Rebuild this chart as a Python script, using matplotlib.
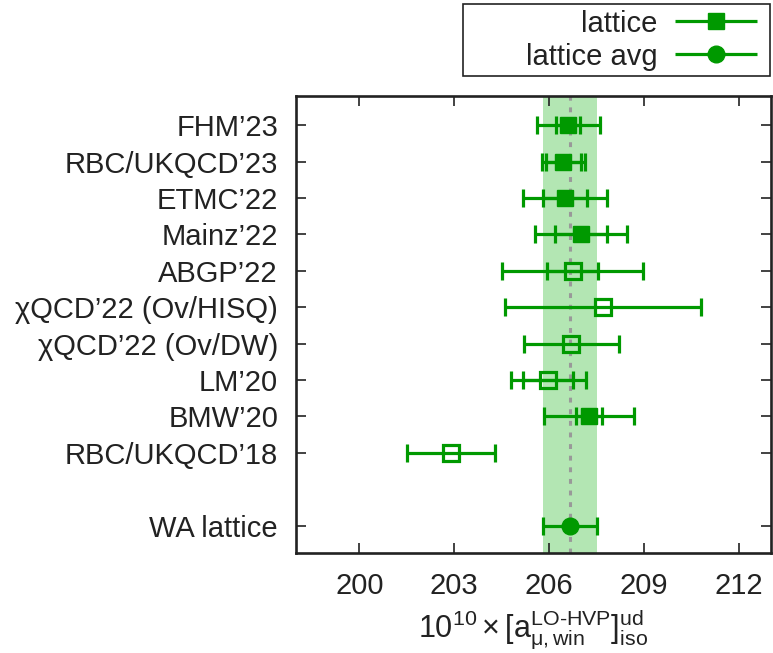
import matplotlib
matplotlib.use("Agg")
import matplotlib.pyplot as plt
from matplotlib.patches import Rectangle
from matplotlib.legend_handler import HandlerErrorbar

plt.rcParams['font.family'] = ['Liberation Sans', 'DejaVu Sans']
plt.rcParams['mathtext.fontset'] = 'custom'
plt.rcParams['mathtext.rm'] = 'Liberation Sans'
plt.rcParams['mathtext.it'] = 'Liberation Sans:italic'

# data
labels = ["FHM\u201923", "RBC/UKQCD\u201923", "ETMC\u201922", "Mainz\u201922", "ABGP\u201922",
          "χQCD\u201922 (Ov/HISQ)", "χQCD\u201922 (Ov/DW)", "LM\u201920", "BMW\u201920",
          "RBC/UKQCD\u201918"]
values = [206.6, 206.45, 206.5, 207.0, 206.74, 207.7, 206.7, 205.97, 207.26, 202.9]
err_tot = [1.0, 0.67, 1.32, 1.46, 2.23, 3.1, 1.5, 1.19, 1.41, 1.40]
err_stat = [0.38, 0.54, 0.7, 0.82, 0.8, None, None, 0.79, 0.4, None]
filled = [True, True, True, True, False, False, False, False, True, False]

wa_label = "WA lattice"
wa_value = 206.65
wa_err = 0.85

green = '#009900'
band = '#b3e6b3'
ink = '#222222'
fs = 21

fig = plt.figure(figsize=(7.73, 6.53), dpi=100)
ax = fig.add_axes([0.383, 0.1531, 0.614, 0.7003])

ax.axvspan(wa_value - wa_err, wa_value + wa_err, color=band, lw=0, zorder=0)
ax.axvline(wa_value, color='#999999', ls=(0, (1.6, 2.2)), lw=2.2, zorder=1)

for i, (v, et, es, f) in enumerate(zip(values, err_tot, err_stat, filled)):
    ax.errorbar(v, i, xerr=et, fmt='none', ecolor=green, elinewidth=2.3,
                capsize=6.5, capthick=2.3, zorder=2)
    if es is not None:
        ax.errorbar(v, i, xerr=es, fmt='none', ecolor=green, elinewidth=2.3,
                    capsize=6.5, capthick=2.3, zorder=2)
    if f:
        ax.plot(v, i, 's', color=green, ms=11.5, mew=1, zorder=3)
    else:
        ax.plot(v, i, 's', mfc='none', mec=green, ms=12, mew=2.3, zorder=3)

wa_pos = len(labels) + 1
ax.errorbar(wa_value, wa_pos, xerr=wa_err, fmt='o', color=green, ms=12,
            elinewidth=2.3, capsize=6.5, capthick=2.3, zorder=3)

ax.set_xlim(198, 213)
ax.set_ylim(11.75, -0.81)
ax.set_xticks([200, 203, 206, 209, 212])
ax.set_yticks(list(range(len(labels))) + [wa_pos])
ax.set_yticklabels(labels + [wa_label])
ax.tick_params(direction='in', top=True, right=True, length=7, width=1.2,
               labelsize=fs, colors=ink)
ax.tick_params(axis='x', pad=14)
ax.tick_params(axis='y', pad=13)
for s in ax.spines.values():
    s.set_linewidth(1.9)
    s.set_color(ink)

ax.set_xlabel(r'$10^{10}\times[\mathrm{a}^{\mathrm{LO\text{-}HVP}}_{\mathrm{μ,win}}]^{\mathrm{ud}}_{\mathrm{iso}}$',
              fontsize=22, color=ink, labelpad=5)

# legend: gnuplot style, text on the left, handle on the right
h1 = ax.errorbar([], [], xerr=[], fmt='s', color=green, ms=11.5,
                 elinewidth=2.3, capsize=6.5, capthick=2.3)
h2 = ax.errorbar([], [], xerr=[], fmt='o', color=green, ms=12,
                 elinewidth=2.3, capsize=6.5, capthick=2.3)
leg = fig.legend([h1, h2], ['lattice', 'lattice avg'], loc='center right',
                 bbox_to_anchor=(0.979, 0.9387), markerfirst=False, fontsize=fs,
                 frameon=False, handlelength=2.8, borderpad=0, labelspacing=0.17,
                 handletextpad=0.6, borderaxespad=0,
                 handler_map={type(h1): HandlerErrorbar(xerr_size=1.4)})
for t in leg.get_texts():
    t.set_color(ink)
fig.add_artist(Rectangle((0.599, 0.8836), 0.397, 0.110, transform=fig.transFigure,
                         fill=False, edgecolor=ink, lw=1.2))

fig.savefig('out.png', dpi=100)
